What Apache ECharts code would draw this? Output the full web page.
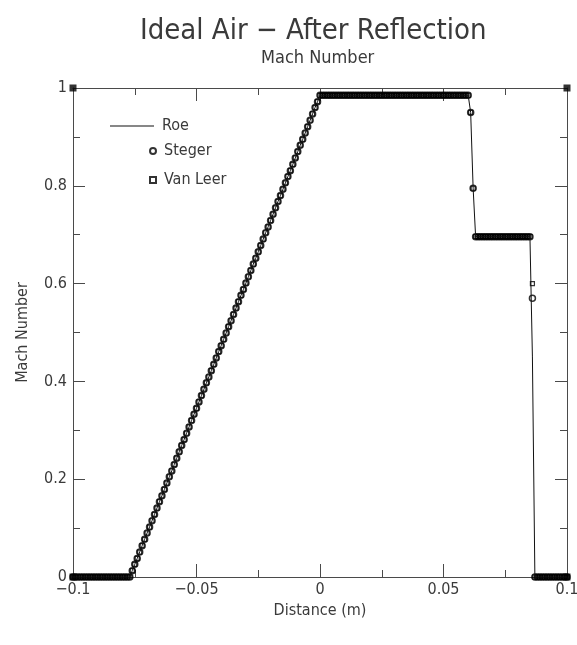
<!DOCTYPE html>
<html>
<head>
<meta charset="utf-8">
<script src="https://cdn.jsdelivr.net/npm/echarts@6/dist/echarts.min.js"></script>
<style>
  html, body { margin: 0; padding: 0; background: #fff; }
  #chart { width: 577px; height: 645px; }
</style>
</head>
<body>
<div id="chart"></div>
<script>
// 网格点 x (m)
const xs = [
  -0.1, -0.099, -0.098, -0.097, -0.096, -0.095, -0.094, -0.093, -0.092, -0.091,
  -0.09, -0.089, -0.088, -0.087, -0.086, -0.085, -0.084, -0.083, -0.082, -0.081,
  -0.08, -0.079, -0.078, -0.077, -0.076, -0.075, -0.074, -0.073, -0.072, -0.071,
  -0.07, -0.069, -0.068, -0.067, -0.066, -0.065, -0.064, -0.063, -0.062, -0.061,
  -0.06, -0.059, -0.058, -0.057, -0.056, -0.055, -0.054, -0.053, -0.052, -0.051,
  -0.05, -0.049, -0.048, -0.047, -0.046, -0.045, -0.044, -0.043, -0.042, -0.041,
  -0.04, -0.039, -0.038, -0.037, -0.036, -0.035, -0.034, -0.033, -0.032, -0.031,
  -0.03, -0.029, -0.028, -0.027, -0.026, -0.025, -0.024, -0.023, -0.022, -0.021,
  -0.02, -0.019, -0.018, -0.017, -0.016, -0.015, -0.014, -0.013, -0.012, -0.011,
  -0.01, -0.009, -0.008, -0.007, -0.006, -0.005, -0.004, -0.003, -0.002, -0.001,
  0, 0.001, 0.002, 0.003, 0.004, 0.005, 0.006, 0.007, 0.008, 0.009,
  0.01, 0.011, 0.012, 0.013, 0.014, 0.015, 0.016, 0.017, 0.018, 0.019,
  0.02, 0.021, 0.022, 0.023, 0.024, 0.025, 0.026, 0.027, 0.028, 0.029,
  0.03, 0.031, 0.032, 0.033, 0.034, 0.035, 0.036, 0.037, 0.038, 0.039,
  0.04, 0.041, 0.042, 0.043, 0.044, 0.045, 0.046, 0.047, 0.048, 0.049,
  0.05, 0.051, 0.052, 0.053, 0.054, 0.055, 0.056, 0.057, 0.058, 0.059,
  0.06, 0.061, 0.062, 0.063, 0.064, 0.065, 0.066, 0.067, 0.068, 0.069,
  0.07, 0.071, 0.072, 0.073, 0.074, 0.075, 0.076, 0.077, 0.078, 0.079,
  0.08, 0.081, 0.082, 0.083, 0.084, 0.085, 0.086, 0.087, 0.088, 0.089,
  0.09, 0.091, 0.092, 0.093, 0.094, 0.095, 0.096, 0.097, 0.098, 0.099,
  0.1
];

// 各段马赫数
// x = -0.1 .. -0.077 静止区
const leftZero = [0, 0, 0, 0, 0, 0, 0, 0, 0, 0, 0, 0, 0, 0, 0, 0, 0, 0, 0, 0, 0, 0, 0, 0];
// x = -0.076 .. 0 膨胀波
const ramp = [
  0.013, 0.026, 0.038, 0.051, 0.064, 0.077, 0.090, 0.102, 0.115, 0.128,
  0.141, 0.154, 0.166, 0.179, 0.192, 0.205, 0.217, 0.230, 0.243, 0.256,
  0.269, 0.281, 0.294, 0.307, 0.320, 0.333, 0.345, 0.358, 0.371, 0.384,
  0.397, 0.409, 0.422, 0.435, 0.448, 0.461, 0.473, 0.486, 0.499, 0.512,
  0.524, 0.537, 0.550, 0.563, 0.576, 0.588, 0.601, 0.614, 0.627, 0.640,
  0.652, 0.665, 0.678, 0.691, 0.704, 0.716, 0.729, 0.742, 0.755, 0.768,
  0.780, 0.793, 0.806, 0.819, 0.831, 0.844, 0.857, 0.870, 0.883, 0.895,
  0.908, 0.921, 0.934, 0.947, 0.960, 0.972, 0.985
];
// x = 0.001 .. 0.060
const plateauHigh = [
  0.985, 0.985, 0.985, 0.985, 0.985, 0.985, 0.985, 0.985, 0.985, 0.985,
  0.985, 0.985, 0.985, 0.985, 0.985, 0.985, 0.985, 0.985, 0.985, 0.985,
  0.985, 0.985, 0.985, 0.985, 0.985, 0.985, 0.985, 0.985, 0.985, 0.985,
  0.985, 0.985, 0.985, 0.985, 0.985, 0.985, 0.985, 0.985, 0.985, 0.985,
  0.985, 0.985, 0.985, 0.985, 0.985, 0.985, 0.985, 0.985, 0.985, 0.985,
  0.985, 0.985, 0.985, 0.985, 0.985, 0.985, 0.985, 0.985, 0.985, 0.985
];
// x = 0.061, 0.062 接触面
const shockFront = [0.95, 0.795];
// x = 0.063 .. 0.085
const plateauMid = [
  0.696, 0.696, 0.696, 0.696, 0.696, 0.696, 0.696, 0.696, 0.696, 0.696,
  0.696, 0.696, 0.696, 0.696, 0.696, 0.696, 0.696, 0.696, 0.696, 0.696,
  0.696, 0.696, 0.696
];
// x = 0.086 反射激波（各格式不同）
const rearRoe = [0.45];
const rearSteger = [0.57];
const rearVanLeer = [0.6];
// x = 0.087 .. 0.1
const rightZero = [0, 0, 0, 0, 0, 0, 0, 0, 0, 0, 0, 0, 0, 0];

// 图框四角的黑块
const cornerPts = [[-0.1, 1], [0.1, 1], [-0.1, 0], [0.1, 0]];

function buildSeries(rear) {
  let ys = [].concat(leftZero, ramp, plateauHigh, shockFront, plateauMid, rear, rightZero);
  return xs.map(function (x, i) { return [x, ys[i]]; });
}

const FONT = "'Liberation Sans Narrow', 'DejaVu Sans Condensed', 'Liberation Sans', sans-serif";
const INK = '#3a3a3a';
const FRAME = '#4a4a4a';

let myChart = echarts.init(document.getElementById('chart'));

let axisCommon = {
  axisLine: { show: true, onZero: false, lineStyle: { color: FRAME, width: 1 } },
  splitLine: { show: false },
  minorSplitLine: { show: false }
};

let legendText = { fontSize: 16, color: INK, fontFamily: FONT, padding: [0, 0, 0, 3] };

let option = {
  animation: false,
  backgroundColor: '#fff',
  textStyle: { fontFamily: FONT },
  graphic: [
    {
      type: 'text', left: 140, top: 17,
      style: { text: 'Ideal Air − After Reflection', font: '29px ' + FONT, fill: INK }
    },
    {
      type: 'text', left: 261, top: 49,
      style: { text: 'Mach Number', font: '18px ' + FONT, fill: INK }
    }
  ],
  grid: { left: 73, right: 10, top: 88, bottom: 68, containLabel: false, outerBoundsMode: 'none' },
  legend: [
    {
      data: [{ name: 'Roe', icon: 'rect' }], left: 105, top: 113,
      itemWidth: 44, itemHeight: 1, itemGap: 0,
      itemStyle: { color: '#111' },
      textStyle: legendText
    },
    {
      data: ['Steger', 'Van Leer'], left: 144, top: 138, orient: 'vertical',
      itemWidth: 6, itemHeight: 6, itemGap: 13,
      textStyle: legendText
    }
  ],
  xAxis: [
    Object.assign({}, axisCommon, {
      type: 'value', position: 'bottom', min: -0.1, max: 0.1, interval: 0.05,
      name: 'Distance (m)', nameLocation: 'middle', nameGap: 18,
      nameTextStyle: { fontSize: 16, color: INK, fontFamily: FONT },
      axisTick: { show: true, inside: true, length: 13, lineStyle: { color: FRAME } },
      minorTick: { show: true, splitNumber: 2, length: 7, lineStyle: { color: FRAME } },
      axisLabel: {
        margin: 5, fontSize: 16, color: INK, fontFamily: FONT,
        formatter: function (v) { return String(v).replace('-', '−'); }
      }
    }),
    Object.assign({}, axisCommon, {
      type: 'value', position: 'top', min: -0.1, max: 0.1, interval: 0.05,
      axisTick: { show: true, inside: true, length: 13, lineStyle: { color: FRAME } },
      minorTick: { show: true, splitNumber: 2, length: 7, lineStyle: { color: FRAME } },
      axisLabel: { show: false }
    })
  ],
  yAxis: [
    Object.assign({}, axisCommon, {
      type: 'value', position: 'left', min: 0, max: 1, interval: 0.2,
      name: 'Mach Number', nameLocation: 'middle', nameGap: 42, nameRotate: 90,
      nameTextStyle: { fontSize: 16, color: INK, fontFamily: FONT },
      axisTick: { show: true, inside: true, length: 12, lineStyle: { color: FRAME } },
      minorTick: { show: true, splitNumber: 2, length: 7, lineStyle: { color: FRAME } },
      axisLabel: { margin: 6, fontSize: 16, color: INK, fontFamily: FONT }
    }),
    Object.assign({}, axisCommon, {
      type: 'value', position: 'right', min: 0, max: 1, interval: 0.2,
      axisTick: { show: true, inside: true, length: 12, lineStyle: { color: FRAME } },
      minorTick: { show: true, splitNumber: 2, length: 7, lineStyle: { color: FRAME } },
      axisLabel: { show: false }
    })
  ],
  series: [
    {
      name: 'Roe', type: 'line', data: buildSeries(rearRoe),
      symbol: 'none', clip: false,
      lineStyle: { color: '#111', width: 1 }, itemStyle: { color: '#111' }
    },
    {
      name: 'Van Leer', type: 'scatter', data: buildSeries(rearVanLeer),
      symbol: 'rect', symbolSize: 4, clip: false,
      itemStyle: { color: 'rgba(0,0,0,0)', borderColor: '#000', borderWidth: 1.2 }
    },
    {
      name: 'Steger', type: 'scatter', data: buildSeries(rearSteger),
      symbol: 'circle', symbolSize: 6, clip: false,
      itemStyle: { color: 'rgba(0,0,0,0)', borderColor: '#000', borderWidth: 1.5 }
    },
    {
      name: 'corners', type: 'scatter', data: cornerPts,
      symbol: 'rect', symbolSize: 7, clip: false, silent: true,
      itemStyle: { color: '#000' }
    }
  ]
};

myChart.setOption(option);
window.addEventListener('resize', function () { myChart.resize(); });
</script>
</body>
</html>
